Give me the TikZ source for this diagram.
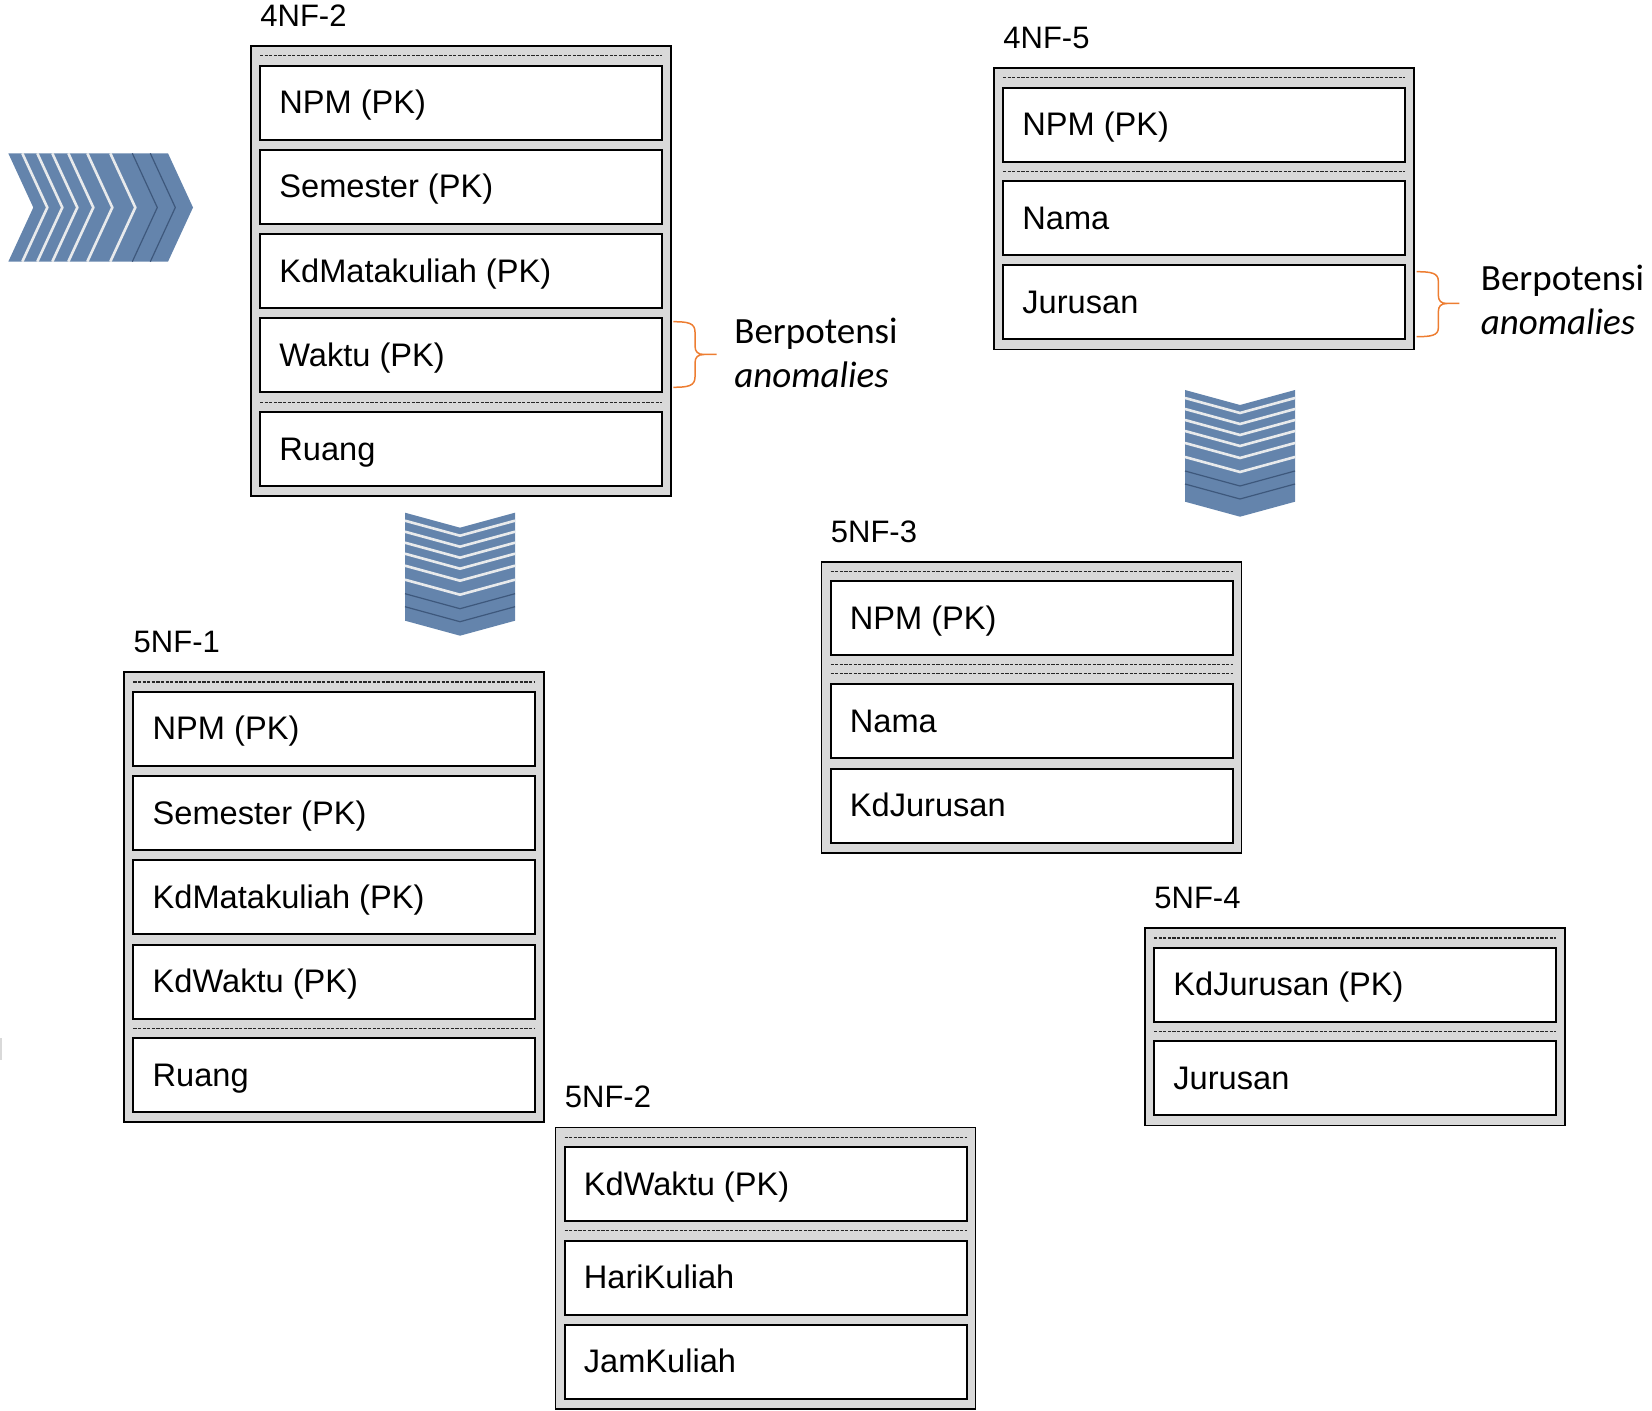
\documentclass[tikz,border=0pt]{standalone}
\usepackage{fontspec}
\setmainfont{Liberation Sans}
\newfontfamily\calib{Carlito}
\definecolor{boxgray}{RGB}{217,217,217}
\definecolor{chevblue}{RGB}{100,132,172}
\definecolor{chevdarkc}{RGB}{62,88,124}
\definecolor{chevlight}{RGB}{232,234,236}
\definecolor{braceor}{RGB}{237,125,49}
\tikzset{
  outerst/.style={draw=black, fill=boxgray, line width=0.9pt},
  rowst/.style={draw=black, fill=white, line width=1pt},
  dotsep/.style={draw=black!85, line width=0.6pt, dash pattern=on 1.6pt off 0.7pt},
  rowtxt/.style={inner sep=0pt, font=\fontsize{16.3}{19}\selectfont, anchor=base west},
  ttltxt/.style={inner sep=0pt, font=\fontsize{15.5}{18}\selectfont, anchor=base west},
  anomtxt/.style={inner sep=0pt, font=\calib\fontsize{18.5}{22}\selectfont, anchor=base west},
  bracest/.style={draw=braceor, line width=0.75pt},
  chevfill/.style={fill=chevblue},
  chevwhite/.style={draw=chevlight, line width=1.3pt, line join=miter},
  chevdark/.style={draw=chevdarkc, line width=0.6pt, line join=miter},
}
% #1 name, #2 outer left, #3 row top, #4 text
\newcommand{\rowbox}[4]{%
  \draw[rowst] (#2+9,#3) rectangle (#2+411,#3+74);
  \node[rowtxt] (#1) at (#2+28,#3+48) {#4};
}
% #1 outer left, #2 y
\newcommand{\sepline}[2]{\draw[dotsep] (#1+9,#2) -- (#1+411,#2);}
% #1 name, #2 left, #3 top, #4 bottom, #5 title
\newcommand{\tablebox}[5]{%
  \draw[outerst] (#2,#3) rectangle (#2+420,#4);
  \node[ttltxt] (#1) at (#2+9,#3-19.5) {#5};
}
% down chevron: #1 x0, #2 x1, #3 ytop, #4 ybottom(edge), #5 depth
\newcommand{\chevdown}[5]{%
  \pgfmathsetmacro\xc{(#1+#2)/2}
  \fill[chevfill] (#1,#3) -- (\xc,#3+#5) -- (#2,#3) -- (#2,#4) -- (\xc,#4+#5) -- (#1,#4) -- cycle;
  \foreach \o in {8,19,30,41,53,67} {\draw[chevwhite] (#1,#3+\o) -- (\xc,#3+\o+#5) -- (#2,#3+\o);}
  \foreach \o in {81,94} {\draw[chevdark] (#1,#3+\o) -- (\xc,#3+\o+#5) -- (#2,#3+\o);}
}
\begin{document}
\begin{tikzpicture}[x=0.5pt,y=-0.5pt]
\useasboundingbox (0,0) rectangle (1652,1411);

% ---------- right-pointing chevron ----------
\fill[chevfill] (8.3,153.3) -- (33.3,207.5) -- (8.3,261.7) -- (168,261.7) -- (193,207.5) -- (168,153.3) -- cycle;
\foreach \o in {14,29,44,60,79,102} {\draw[chevwhite] (8.3+\o,153.3) -- (33.3+\o,207.5) -- (8.3+\o,261.7);}
\foreach \o in {124,142} {\draw[chevdark] (8.3+\o,153.3) -- (33.3+\o,207.5) -- (8.3+\o,261.7);}

% ---------- down chevrons ----------
\chevdown{405}{515}{512.7}{620.7}{15}
\chevdown{1185}{1295}{390}{501.7}{15}

% ---------- 4NF-2 ----------
\tablebox{t4a}{251}{46}{496.1}{4NF-2}
\sepline{251}{55.8}
\rowbox{t4a1}{251}{65.6}{NPM (PK)}
\rowbox{t4a2}{251}{149.9}{Semester (PK)}
\rowbox{t4a3}{251}{234.2}{KdMatakuliah (PK)}
\rowbox{t4a4}{251}{318.5}{Waktu (PK)}
\sepline{251}{402.3}
\rowbox{t4a5}{251}{412.1}{Ruang}

% ---------- 4NF-5 ----------
\tablebox{t4b}{994}{68}{349.5}{4NF-5}
\sepline{994}{77.8}
\rowbox{t4b1}{994}{87.6}{NPM (PK)}
\sepline{994}{171.4}
\rowbox{t4b2}{994}{181.2}{Nama}
\rowbox{t4b3}{994}{265.5}{Jurusan}

% ---------- 5NF-3 ----------
\tablebox{t53}{821.5}{561.7}{852.6}{5NF-3}
\sepline{821.5}{571.5}
\rowbox{t531}{821.5}{581.3}{NPM (PK)}
\sepline{821.5}{664.6}
\sepline{821.5}{673.6}
\rowbox{t532}{821.5}{684.3}{Nama}
\rowbox{t533}{821.5}{768.6}{KdJurusan}

% ---------- 5NF-1 ----------
\tablebox{t51}{124.3}{672.2}{1122.3}{5NF-1}
\sepline{124.3}{682}
\rowbox{t511}{124.3}{691.8}{NPM (PK)}
\rowbox{t512}{124.3}{776.1}{Semester (PK)}
\rowbox{t513}{124.3}{860.4}{KdMatakuliah (PK)}
\rowbox{t514}{124.3}{944.7}{KdWaktu (PK)}
\sepline{124.3}{1028.5}
\rowbox{t515}{124.3}{1038.3}{Ruang}

% ---------- 5NF-2 ----------
\tablebox{t52}{555.5}{1127.4}{1408.9}{5NF-2}
\sepline{555.5}{1137.2}
\rowbox{t521}{555.5}{1147}{KdWaktu (PK)}
\sepline{555.5}{1230.8}
\rowbox{t522}{555.5}{1240.6}{HariKuliah}
\rowbox{t523}{555.5}{1324.9}{JamKuliah}

% ---------- 5NF-4 ----------
\tablebox{t54}{1145}{928.2}{1125.4}{5NF-4}
\sepline{1145}{938}
\rowbox{t541}{1145}{947.8}{KdJurusan (PK)}
\sepline{1145}{1031.6}
\rowbox{t542}{1145}{1041.4}{Jurusan}

% ---------- braces ----------
\draw[bracest] (673.3,321.7) .. controls (688,321.7) and (695,323) .. (695,332) -- (695,346) .. controls (695,352) and (698,354.5) .. (704,354.5) -- (716.7,354.5)
  (704,354.5) .. controls (698,354.5) and (695,357) .. (695,363) -- (695,377) .. controls (695,386) and (688,387.3) .. (673.3,387.3);
\draw[bracest] (1416.7,271.7) .. controls (1431,271.7) and (1438.3,273) .. (1438.3,281) -- (1438.3,295) .. controls (1438.3,301) and (1441,303.5) .. (1447,303.5) -- (1459.3,303.5)
  (1447,303.5) .. controls (1441,303.5) and (1438.3,306) .. (1438.3,312) -- (1438.3,328) .. controls (1438.3,335.5) and (1431,336.7) .. (1416.7,336.7);

% ---------- annotations ----------
\node[anomtxt] (b1) at (734,343.3) {Berpotensi};
\node[anomtxt] (a1) at (734,387.3) {\itshape anomalies};
\node[anomtxt] (b2) at (1480.5,290.5) {Berpotensi};
\node[anomtxt] (a2) at (1480.5,334.5) {\itshape anomalies};

% faint mark at left edge
\draw[black!15, line width=1pt] (1,1038) -- (1,1060);
\end{tikzpicture}
\end{document}
